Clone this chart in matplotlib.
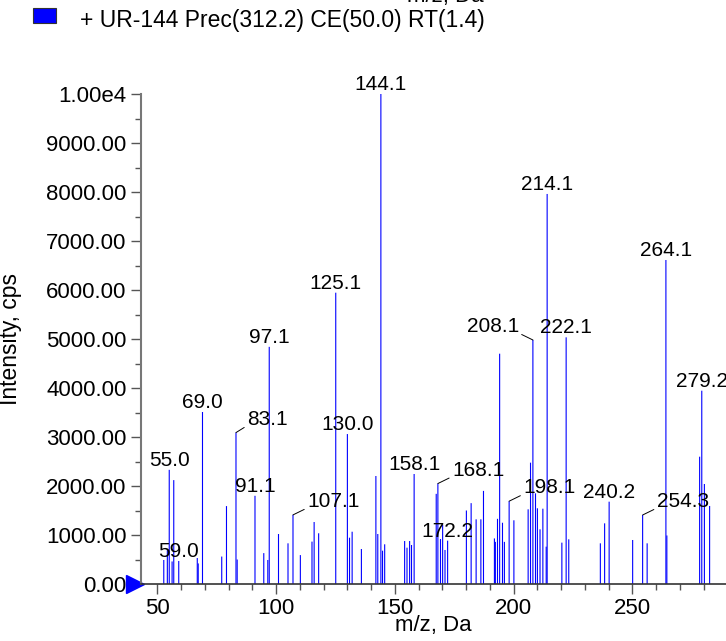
import numpy as np
import matplotlib.pyplot as plt
from matplotlib.ticker import MultipleLocator, FuncFormatter
from matplotlib.patches import Rectangle
from matplotlib.transforms import blended_transform_factory

plt.rcParams['font.family'] = ['Liberation Sans', 'DejaVu Sans']

# product ion spectrum
mz = [52.7, 54.2, 55.0, 56.2, 56.9, 59.0, 66.8, 67.2, 69.0, 77.1, 79.1, 83.1, 83.6,
      91.1, 94.8, 96.5, 97.1, 101.0, 105.0, 107.1, 110.2, 115.1, 116.0, 117.9,
      125.1, 130.0, 130.9, 132.0, 135.9, 142.0, 142.8, 144.1, 144.8, 145.7,
      154.1, 155.1, 156.2, 157.0, 158.1, 167.4, 168.1, 169.2, 170.1, 171.1, 172.2,
      180.1, 182.1, 184.2, 186.2, 187.3, 191.9, 192.3, 193.2, 194.1, 195.3, 196.1,
      198.1, 200.1, 206.1, 207.1, 208.1, 209.2, 210.0, 211.1, 212.3, 213.7, 214.1,
      220.3, 222.1, 223.2, 236.5, 238.3, 240.2, 250.1, 254.3, 256.2, 264.1, 264.5,
      278.3, 279.2, 280.3, 282.5]
intensity = [490, 690, 2330, 460, 2120, 470, 530, 420, 3510, 560, 1590, 3090, 500,
             1800, 630, 490, 4840, 1020, 830, 1410, 590, 865, 1265, 1035,
             5945, 3060, 945, 1067, 714, 2204, 1020, 10000, 680, 810,
             877, 741, 877, 796, 2245, 1840, 2050, 918, 1204, 694, 884,
             1500, 1650, 1320, 1320, 1900, 930, 860, 1330, 4700, 1250, 860,
             1690, 1300, 1524, 2476, 4980, 1850, 1545, 1116, 1537, 762, 7960,
             844, 5034, 912, 830, 1238, 1680, 898, 1408, 830, 6612, 990,
             2598, 3945, 2041, 1592]

label_mz = [55.0, 59.0, 69.0, 83.1, 91.1, 97.1, 107.1, 125.1, 130.0, 144.1, 158.1,
            168.1, 172.2, 198.1, 208.1, 214.1, 222.1, 240.2, 254.3, 264.1, 279.2]
# labels pushed aside with a leader line: offset in pixels
callouts = {83.1: 11, 107.1: 14, 168.1: 14, 198.1: 14, 208.1: -14, 254.3: 14}

fig = plt.figure(figsize=(7.26, 6.41), dpi=100)
ax = fig.add_axes([140.5 / 726, 57 / 641, 1 - 140.5 / 726, 490 / 641])

ax.vlines(mz, 0, intensity, colors='#0000ff', lw=0.8, snap=False)

px = 72 / fig.dpi  # points per pixel
for m in label_mz:
    h = intensity[mz.index(m)]
    txt = f'{m:.1f}'
    if m in callouts:
        dx = callouts[m]
        ax.annotate(txt, xy=(m, h), xytext=(dx * px, 4 * px), textcoords='offset points',
                    ha='left' if dx > 0 else 'right', va='bottom', fontsize=15,
                    arrowprops=dict(arrowstyle='-', color='black', lw=0.7,
                                    shrinkA=0, shrinkB=0,
                                    relpos=(0, 0.15) if dx > 0 else (1, 0.15)))
    else:
        ax.annotate(txt, xy=(m, h), xytext=(0, 0), textcoords='offset points',
                    ha='center', va='bottom', fontsize=15, annotation_clip=False)

ax.set_xlim(42.9, 289.4)
ax.set_ylim(0, 10000)
ax.xaxis.set_major_locator(MultipleLocator(50))
ax.xaxis.set_minor_locator(MultipleLocator(10))
ax.yaxis.set_major_locator(MultipleLocator(1000))
ax.yaxis.set_minor_locator(MultipleLocator(500))
ax.yaxis.set_major_formatter(FuncFormatter(
    lambda v, p: '1.00e4' if v >= 10000 else f'{v:.2f}'))
ax.tick_params(which='major', length=7, width=1, color='#555555', labelsize=16, pad=3)
ax.tick_params(which='minor', length=4, width=1, color='#555555')

for s in ['top', 'right']:
    ax.spines[s].set_visible(False)
ax.spines['left'].set_color('#777777')
ax.spines['left'].set_linewidth(1.5)
ax.spines['bottom'].set_color('#333333')
ax.spines['bottom'].set_linewidth(1.2)

ax.set_xlabel('m/z, Da', fontsize=16)
ax.xaxis.set_label_coords(0.5, -0.063)
ax.set_ylabel('Intensity, cps', fontsize=16.5)
ax.yaxis.set_label_coords(-0.202, 0.5)

# blue threshold marker at the origin
tr = blended_transform_factory(ax.transAxes, ax.transData)
ax.plot([-0.009], [0], marker='>', color='#0000ff', markersize=13,
        transform=tr, clip_on=False)

# legend of the experiment
fig.add_artist(Rectangle((33 / 726, 1 - 23 / 641), 23 / 726, 15 / 641,
                         transform=fig.transFigure, facecolor='#0000ff',
                         edgecolor='#333333', lw=0.8))
fig.text(80 / 726, 1 - 20 / 641, '+ UR-144 Prec(312.2) CE(50.0) RT(1.4)',
         fontsize=16.5, va='center', ha='left')
# axis title of the panel above, cut off by the frame
fig.text(445 / 726, 1 - 2 / 641, 'm/z, Da', fontsize=16, va='baseline', ha='center')

fig.savefig('out.png', dpi=100)
